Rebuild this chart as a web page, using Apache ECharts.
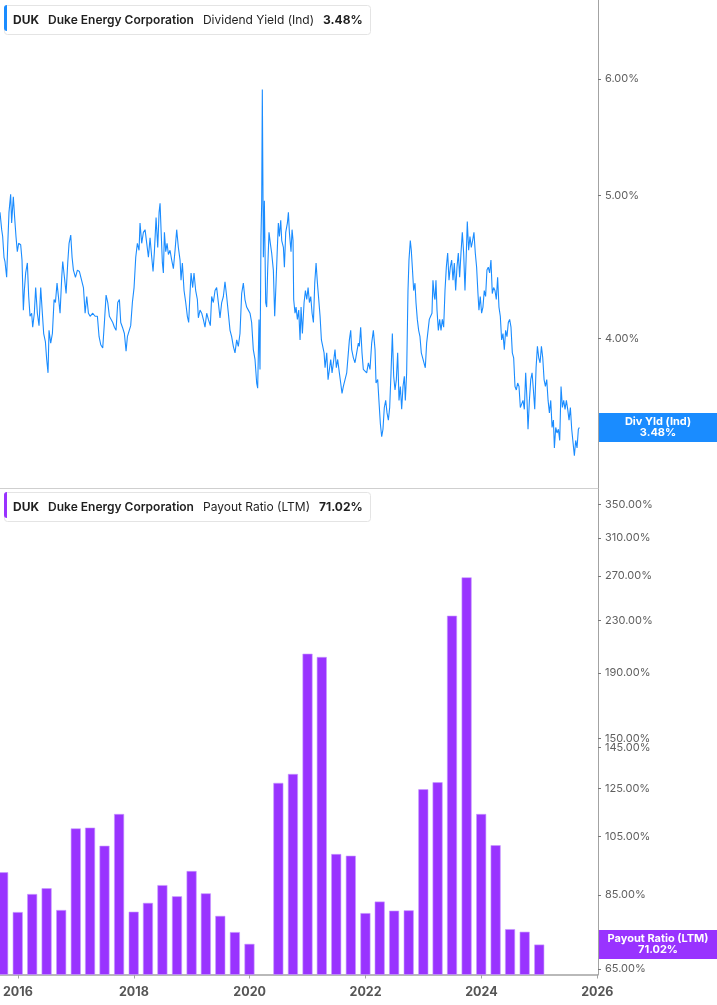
<!DOCTYPE html>
<html>
<head>
<meta charset="utf-8">
<script src="https://cdn.jsdelivr.net/npm/echarts@6.0.0/dist/echarts.min.js"></script>
<style>
html,body{margin:0;padding:0;background:#ffffff;}
#chart{width:717px;height:1005px;}
</style>
</head>
<body>
<div id="chart"></div>
<script>
// ---------- DATA ----------
const ticker = 'DUK';
const company = 'Duke Energy Corporation';
const yieldName = 'Dividend Yield (Ind)';
const yieldShort = 'Div Yld (Ind)';
const yieldLast = 3.48;
const payoutName = 'Payout Ratio (LTM)';
const payoutLast = 71.02;

// Dividend yield (%) — time as decimal years
const yieldYears = [
2015.695,2015.724,2015.741,2015.764,2015.781,2015.810,2015.827,2015.850,2015.879,2015.896,2015.925,2015.948,2015.971,2015.994,
2016.017,2016.052,2016.075,2016.098,2016.115,2016.138,2016.167,2016.190,2016.213,2016.241,2016.259,2016.287,2016.310,2016.339,2016.368,2016.397,2016.425,2016.448,2016.477,2016.500,2016.523,2016.540,2016.569,2016.598,2016.627,2016.650,2016.678,2016.707,2016.730,2016.759,2016.776,2016.805,2016.834,2016.862,2016.885,2016.914,2016.937,2016.960,2016.995,
2017.029,2017.064,2017.098,2017.133,2017.162,2017.190,2017.219,2017.248,2017.294,2017.334,2017.374,2017.403,2017.432,2017.466,2017.495,2017.524,2017.553,2017.581,2017.610,2017.639,2017.668,2017.696,2017.725,2017.754,2017.777,2017.806,2017.840,2017.869,2017.892,2017.921,2017.949,2017.978,
2018.007,2018.036,2018.064,2018.093,2018.110,2018.139,2018.168,2018.197,
2018.226,2018.255,2018.283,2018.312,2018.335,2018.358,2018.387,2018.416,2018.439,2018.456,2018.473,2018.496,2018.513,2018.531,2018.554,2018.577,2018.600,2018.628,2018.657,2018.686,2018.715,2018.743,2018.772,2018.801,2018.818,2018.841,2018.870,2018.899,2018.927,2018.950,2018.968,2018.991,
2019.019,2019.042,2019.071,2019.100,2019.117,2019.146,2019.175,2019.203,2019.232,2019.261,2019.290,2019.324,2019.347,2019.376,2019.405,2019.433,2019.462,2019.491,2019.520,2019.549,2019.577,2019.606,2019.635,2019.664,2019.692,2019.721,2019.750,2019.779,2019.807,2019.836,2019.865,2019.894,2019.922,2019.951,2019.980,
2020.009,2020.037,2020.066,2020.095,2020.124,2020.141,2020.164,2020.181,2020.198,2020.210,2020.221,2020.239,2020.256,2020.279,2020.296,2020.313,2020.336,2020.359,2020.382,2020.411,2020.434,2020.457,2020.480,2020.497,2020.515,2020.538,2020.555,2020.584,2020.601,2020.624,2020.653,2020.670,2020.687,
2020.698,2020.715,2020.733,2020.750,2020.761,2020.784,2020.802,2020.825,2020.848,2020.871,2020.888,2020.911,2020.940,2020.963,2020.986,
2021.009,2021.032,2021.055,2021.078,2021.101,2021.124,2021.147,2021.170,2021.193,2021.216,2021.239,2021.262,2021.285,2021.302,2021.331,2021.354,2021.377,2021.400,2021.423,2021.446,2021.474,2021.497,2021.520,2021.549,2021.572,2021.595,2021.618,2021.647,2021.676,2021.704,2021.722,2021.745,2021.762,2021.791,2021.819,2021.848,2021.877,2021.894,2021.917,2021.940,2021.963,2021.992,
2022.021,2022.050,2022.078,2022.107,2022.136,2022.165,2022.182,2022.211,2022.234,2022.257,2022.280,2022.302,2022.325,2022.349,2022.372,2022.395,2022.418,2022.441,2022.464,2022.487,2022.510,2022.533,2022.556,2022.579,2022.602,2022.625,2022.648,2022.671,2022.688,2022.711,2022.734,2022.751,2022.774,2022.791,2022.809,2022.832,2022.855,2022.872,2022.895,2022.918,2022.941,2022.964,2022.987,
2023.010,2023.033,2023.056,2023.079,2023.102,2023.125,2023.148,2023.165,2023.188,
2023.200,2023.217,2023.235,2023.258,2023.281,2023.304,2023.327,2023.350,2023.373,2023.396,2023.419,2023.442,2023.465,2023.488,2023.511,2023.534,2023.557,2023.580,2023.603,2023.626,2023.649,2023.672,2023.695,2023.718,2023.741,2023.758,2023.781,2023.804,2023.827,2023.850,2023.873,2023.896,2023.919,2023.942,2023.959,2023.982,
2024.005,2024.028,2024.051,2024.074,2024.097,2024.120,2024.143,2024.166,2024.189,2024.212,2024.235,2024.258,2024.281,2024.304,2024.327,2024.350,2024.373,2024.396,2024.419,2024.442,2024.465,2024.488,2024.511,2024.534,2024.557,2024.580,2024.603,2024.626,2024.649,2024.672,2024.695,2024.718,2024.741,2024.764,2024.787,2024.804,2024.828,2024.851,2024.874,2024.897,2024.920,2024.943,2024.966,2024.989,
2025.012,2025.035,2025.058,2025.081,2025.104,2025.127,2025.150,2025.173,2025.196,2025.219,2025.242,2025.259,2025.282,2025.305,2025.328,2025.351,2025.374,2025.397,2025.420,2025.443,2025.466,2025.489,2025.512,2025.535,2025.558,2025.581,2025.604,2025.627,2025.650,2025.673,2025.690
];
const yieldValues = [
4.87,4.74,4.69,4.54,4.51,4.40,4.61,4.87,5.01,4.79,4.99,4.83,4.69,4.58,
4.64,4.63,4.52,4.18,4.31,4.43,4.50,4.27,4.14,4.16,4.07,4.16,4.33,4.16,4.08,4.33,4.16,4.03,3.98,3.87,3.79,4.05,3.97,4.03,4.25,4.23,4.36,4.25,4.16,4.40,4.51,4.40,4.29,4.50,4.64,4.70,4.54,4.45,4.40,
4.45,4.44,4.45,4.33,4.16,4.27,4.16,4.14,4.16,4.14,4.14,4.01,3.96,3.94,4.10,4.28,4.23,4.14,4.15,4.10,4.07,4.05,4.23,4.25,4.10,4.07,4.03,3.92,4.01,4.01,4.08,4.23,
4.33,4.54,4.64,4.59,4.79,4.64,4.72,4.74,
4.74,4.54,4.68,4.54,4.44,4.58,4.83,4.61,4.87,4.94,4.74,4.50,4.43,4.72,4.58,4.64,4.56,4.59,4.52,4.46,4.59,4.74,4.61,4.52,4.38,4.50,4.31,4.23,4.14,4.10,4.25,4.43,
4.33,4.43,4.31,4.25,4.13,4.18,4.16,4.12,4.07,4.16,4.12,4.08,4.27,4.23,4.31,4.33,4.23,4.13,4.23,4.27,4.37,4.27,4.16,4.05,4.01,3.95,3.91,3.99,3.95,4.03,4.29,4.36,4.25,4.20,4.18,
4.16,4.10,3.93,3.87,3.73,3.70,4.12,3.81,4.69,4.94,5.90,4.54,4.96,4.23,4.20,4.45,4.72,4.64,4.57,4.45,4.14,4.36,4.61,4.79,4.69,4.81,4.66,4.61,4.47,4.72,4.79,4.87,4.72,
4.72,4.58,4.74,4.66,4.25,4.16,4.20,4.12,4.18,3.99,4.20,4.03,4.23,4.31,4.25,
4.33,4.23,4.27,4.16,4.10,4.36,4.50,4.36,4.25,4.14,3.99,3.95,3.91,3.82,3.91,3.75,3.81,3.87,3.79,3.85,3.93,3.82,3.87,3.79,3.73,3.67,3.71,3.75,3.79,3.91,3.99,4.05,3.93,3.88,3.85,3.91,3.97,3.95,4.07,3.91,3.81,3.82,
3.79,3.85,3.81,3.97,4.05,3.93,3.73,3.75,3.62,3.50,3.43,3.47,3.59,3.63,3.56,3.52,3.59,3.79,4.03,3.77,3.69,3.75,3.91,3.63,3.71,3.58,3.71,3.77,3.63,3.79,4.31,4.52,4.66,4.59,4.47,4.31,4.36,4.23,4.12,4.05,4.01,3.91,3.91,
3.85,3.82,3.97,3.97,4.12,4.14,4.16,4.38,4.27,
4.25,4.38,4.18,4.05,4.12,4.05,4.12,4.07,4.31,4.47,4.57,4.38,4.47,4.52,4.38,4.50,4.31,4.47,4.57,4.40,4.57,4.72,4.57,4.31,4.57,4.80,4.59,4.69,4.61,4.66,4.72,4.57,4.47,4.29,4.18,4.27,
4.16,4.20,4.31,4.27,4.45,4.47,4.43,4.52,4.29,4.33,4.31,4.25,4.40,4.20,4.14,3.99,4.03,3.93,4.05,4.01,4.10,4.12,4.07,3.91,3.88,3.71,3.69,3.73,3.71,3.59,3.58,3.63,3.58,3.79,3.63,3.47,3.63,3.75,3.79,3.69,3.58,3.82,3.95,3.88,
3.85,3.95,3.88,3.75,3.71,3.75,3.63,3.56,3.63,3.48,3.52,3.37,3.48,3.45,3.47,3.41,3.71,3.59,3.63,3.58,3.63,3.58,3.52,3.59,3.47,3.48,3.33,3.41,3.37,3.47,3.48
];

// Payout ratio (LTM, %) — quarter ends; null = not reported
const payoutDates = [
'2015-09-30','2015-12-31','2016-03-31','2016-06-30','2016-09-30','2016-12-31',
'2017-03-31','2017-06-30','2017-09-30','2017-12-31','2018-03-31','2018-06-30',
'2018-09-30','2018-12-31','2019-03-31','2019-06-30','2019-09-30','2019-12-31',
'2020-03-31','2020-06-30','2020-09-30','2020-12-31','2021-03-31','2021-06-30',
'2021-09-30','2021-12-31','2022-03-31','2022-06-30','2022-09-30','2022-12-31',
'2023-03-31','2023-06-30','2023-09-30','2023-12-31','2024-03-31','2024-06-30',
'2024-09-30','2024-12-31'
];
const payoutValues = [
92.3,79.9,85.3,87.1,80.5,108.2,
108.5,101.6,114.0,80.0,82.6,88.1,
84.6,92.7,85.5,78.8,74.3,71.2,
null,127.6,131.8,203.8,201.4,98.6,
98.0,79.6,83.0,80.3,80.4,124.7,
127.9,233.9,268.8,114.0,101.8,75.1,
74.4,71.02
];

// Axis tick labels
const yieldTicks = [4, 5, 6];
const payoutTicks = [65, 85, 105, 125, 145, 150, 190, 230, 270, 310, 350];
const yearTicks = [2016, 2018, 2020, 2022, 2024, 2026];

// ---------- HELPERS ----------
function yearToTime(y) {
  const yr = Math.floor(y);
  const a = Date.UTC(yr, 0, 1), b = Date.UTC(yr + 1, 0, 1);
  return a + (y - yr) * (b - a);
}
function dateToTime(s) { return Date.parse(s + 'T00:00:00Z'); }
const ln = Math.log;

const BLUE = '#1a8cff';
const PURPLE = '#9933ff';
const AXIS = '#a3a3a3';
const LABEL = '#5f5f5f';
const FONT = 'Inter, "Noto Sans", sans-serif';

const xMin = yearToTime(2015.695);
const xMax = yearToTime(2026.012);
const xTickValues = yearTicks.map(y => Date.UTC(y, 0, 1));

const lineData = yieldYears.map((y, i) => [yearToTime(y), ln(yieldValues[i])]);
const barData = [];
payoutDates.forEach((d, i) => {
  if (payoutValues[i] != null) barData.push([dateToTime(d), ln(payoutValues[i])]);
});

const yFmt = v => Math.exp(v).toFixed(2) + '%';

function yAxisCfg(gridIndex, min, max, ticks) {
  const vals = ticks.map(t => ln(t));
  return {
    type: 'value', gridIndex, position: 'right', min, max,
    axisLine: { show: true, onZero: false, lineStyle: { color: AXIS, width: 1 } },
    axisTick: { show: true, length: 3, customValues: vals, lineStyle: { color: '#777' } },
    axisLabel: { show: true, customValues: vals, formatter: yFmt, color: LABEL,
                 fontSize: 11, fontFamily: FONT, margin: 7 },
    splitLine: { show: false }
  };
}

function header(top, valueText, name) {
  return {
    left: 4, top: top, padding: [6, 8, 6, 9],
    backgroundColor: '#ffffff', borderColor: '#e4e4e4', borderWidth: 1, borderRadius: 3,
    text: '{t|' + ticker + '}{g|}{n|' + company + '}{g|}{m|' + name + '}{g|}{v|' + valueText + '}',
    textStyle: {
      rich: {
        t: { fontFamily: FONT, fontSize: 12, fontWeight: 'bold', color: '#1f1f1f' },
        g: { width: 9 },
        n: { fontFamily: FONT, fontSize: 12, fontWeight: 600, color: '#1f1f1f' },
        m: { fontFamily: FONT, fontSize: 12, fontWeight: 'normal', color: '#1f1f1f' },
        v: { fontFamily: FONT, fontSize: 12, fontWeight: 'bold', color: '#1f1f1f' }
      }
    }
  };
}

const chart = echarts.init(document.getElementById('chart'), null, { renderer: 'canvas' });

const option = {
  animation: false,
  backgroundColor: '#ffffff',
  title: [
    header(5, yieldLast.toFixed(2) + '%', yieldName),
    header(492, payoutLast.toFixed(2) + '%', payoutName)
  ],
  grid: [
    { left: 0, right: 119, top: 0, height: 488 },
    { left: 0, right: 119, top: 488, bottom: 30.5 }
  ],
  xAxis: [
    { type: 'value', gridIndex: 0, min: xMin, max: xMax,
      axisLine: { show: true, onZero: false, lineStyle: { color: '#cfcfcf', width: 1 } },
      axisTick: { show: false }, axisLabel: { show: false }, splitLine: { show: false } },
    { type: 'value', gridIndex: 1, min: xMin, max: xMax,
      axisLine: { show: true, onZero: false, lineStyle: { color: AXIS, width: 1.5 } },
      axisTick: { show: true, length: 4, customValues: xTickValues, lineStyle: { color: AXIS } },
      axisLabel: { show: true, customValues: xTickValues,
                   formatter: v => String(new Date(v).getUTCFullYear()),
                   color: '#555555', fontSize: 12.5, fontWeight: 'bold', fontFamily: FONT, margin: 11 },
      splitLine: { show: false } }
  ],
  yAxis: [
    yAxisCfg(0, 1.1524, 1.9149, yieldTicks),
    yAxisCfg(1, 4.1545, 5.9178, payoutTicks)
  ],
  series: [
    { name: yieldName, type: 'line', xAxisIndex: 0, yAxisIndex: 0, data: lineData,
      showSymbol: false, symbol: 'none', lineStyle: { color: BLUE, width: 1.1 }, z: 3 },
    { name: payoutName, type: 'bar', xAxisIndex: 1, yAxisIndex: 1, data: barData,
      barWidth: 10, clip: true,
      itemStyle: { color: PURPLE, borderColor: '#c79bff', borderWidth: 0.6 } }
  ]
};
chart.setOption(option);

// value tags on the right axis, placed through the axis scales
const yTag1 = chart.convertToPixel({ yAxisIndex: 0 }, ln(yieldLast));
const yTag2 = chart.convertToPixel({ yAxisIndex: 1 }, ln(payoutLast));
const tagX = 599, tagW = 118, tagH = 29;
function tag(id, y, color, line1, line2) {
  return {
    type: 'group', id: id, z: 50,
    children: [
      { type: 'rect', shape: { x: tagX, y: y - tagH / 2, width: tagW, height: tagH }, style: { fill: color } },
      { type: 'text', x: tagX + tagW / 2, y: y,
        style: { text: line1 + '\n' + line2, fill: '#ffffff', fontFamily: FONT, fontSize: 11,
                 fontWeight: 'bold', align: 'center', verticalAlign: 'middle', lineHeight: 11 } }
    ]
  };
}
chart.setOption({
  graphic: [
    { type: 'rect', id: 'acc1', left: 4, top: 5, z: 60, shape: { width: 3, height: 26, r: [3, 0, 0, 3] }, style: { fill: BLUE } },
    { type: 'rect', id: 'acc2', left: 4, top: 492, z: 60, shape: { width: 3, height: 26, r: [3, 0, 0, 3] }, style: { fill: PURPLE } },
    tag('tag1', yTag1, BLUE, yieldShort, yieldLast.toFixed(2) + '%'),
    tag('tag2', yTag2, PURPLE, payoutName, payoutLast.toFixed(2) + '%')
  ]
});
</script>
</body>
</html>
